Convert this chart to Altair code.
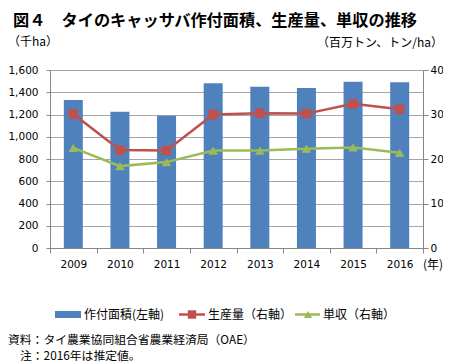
import altair as alt
import pandas as pd

years = ["2009", "2010", "2011", "2012", "2013", "2014", "2015", "2016"]
area = [1330, 1225, 1189, 1480, 1450, 1438, 1495, 1490]          # 千ha (left axis)
production = [30.1, 22.0, 21.9, 30.0, 30.3, 30.2, 32.4, 31.2]     # 百万トン (right axis)
yield_ = [22.5, 18.4, 19.3, 21.9, 21.9, 22.3, 22.6, 21.4]         # トン/ha (right axis)

left_ticks = [0, 200, 400, 600, 800, 1000, 1200, 1400, 1600]
right_ticks = [0, 5, 10, 15, 20, 25, 30, 35, 40]

title_text = "図４　タイのキャッサバ作付面積、生産量、単収の推移"
left_unit = "（千ha）"
right_unit = "（百万トン、トン/ha）"
x_unit = "(年)"
legend_labels = ["作付面積(左軸)", "生産量（右軸）", "単収（右軸）"]
source_text = "資料：タイ農業協同組合省農業経済局（OAE）"
note_text = "注：2016年は推定値。"

BLUE = "#4F81BD"
RED = "#C0504D"
GREEN = "#9BBB59"
GRID = "#A6A6A6"
AXIS = "#868686"
JP = "Noto Sans CJK JP"
NUM = "DejaVu Sans"

df = pd.DataFrame({"year": years, "area": area, "production": production, "yield": yield_})

W, H = 373, 178

xenc = alt.X("year:O", title=None,
             scale=alt.Scale(paddingInner=0.0, paddingOuter=0.0),
             axis=alt.Axis(labelAngle=0, tickBand="extent", domainColor=AXIS, tickColor=AXIS,
                           tickSize=5, labelPadding=6, labelFont=NUM, labelFontSize=10.5,
                           labelColor="#000000", grid=False))

bars = alt.Chart(df).mark_bar(size=19, color=BLUE).encode(
    x=xenc,
    y=alt.Y("area:Q", title=None, scale=alt.Scale(domain=[0, 1600], nice=False),
            axis=alt.Axis(values=left_ticks, format=",.0f", grid=True, gridColor=GRID,
                          domainColor=AXIS, tickColor=AXIS, tickSize=4, labelPadding=8,
                          labelFont=NUM, labelFontSize=10.5, labelColor="#000000")),
)

yright = alt.Y("production:Q", title=None, scale=alt.Scale(domain=[0, 40], nice=False),
               axis=alt.Axis(orient="right", values=right_ticks, format=".0f", grid=False,
                             domainColor=AXIS, tickColor=AXIS, tickSize=5, labelPadding=2,
                             labelFont=NUM, labelFontSize=10.5, labelColor="#000000"))

prod_line = alt.Chart(df).mark_line(color=RED, strokeWidth=2.5).encode(x=xenc, y=yright)
prod_pts = alt.Chart(df).mark_point(shape="square", filled=True, color=RED, size=90, opacity=1).encode(x=xenc, y=yright)
yld_line = alt.Chart(df).mark_line(color=GREEN, strokeWidth=2.5).encode(x=xenc, y=alt.Y("yield:Q"))
yld_pts = alt.Chart(df).mark_point(shape="triangle-up", filled=True, color=GREEN, size=90, opacity=1).encode(x=xenc, y=alt.Y("yield:Q"))

lines = alt.layer(prod_line, prod_pts, yld_line, yld_pts)

def txt(s, x, y, size=12, align="left", weight="normal", font=JP):
    return alt.Chart(pd.DataFrame({"t": [s]})).mark_text(
        align=align, baseline="middle", fontSize=size, fontWeight=weight, font=font, color="#000000"
    ).encode(text="t:N", x=alt.value(x), y=alt.value(y))

# plot origin on page is (50, 70)
texts = [
    txt(title_text, -37, -49, size=16.2, weight="bold"),
    txt(left_unit, -42, -28.5, size=12),
    txt(right_unit, 393, -27, size=12, align="right"),
    txt(x_unit, 393, 195, size=12, align="right"),
    txt(legend_labels[0], 34, 244.5, size=12),
    txt(legend_labels[1], 158, 244.5, size=12),
    txt(legend_labels[2], 273, 244.5, size=12),
    txt(source_text, -42, 270, size=11.8),
    txt(note_text, -30, 286, size=11.8),
]

leg = pd.DataFrame({"k": [0]})
legend_marks = [
    alt.Chart(leg).mark_rect(color=BLUE).encode(x=alt.value(5), x2=alt.value(31), y=alt.value(241), y2=alt.value(248)),
    alt.Chart(leg).mark_rule(color=RED, strokeWidth=2.5).encode(x=alt.value(129), x2=alt.value(155), y=alt.value(244.5)),
    alt.Chart(leg).mark_point(shape="square", filled=True, color=RED, size=70, opacity=1).encode(x=alt.value(142), y=alt.value(244.5)),
    alt.Chart(leg).mark_rule(color=GREEN, strokeWidth=2.5).encode(x=alt.value(245), x2=alt.value(270), y=alt.value(244.5)),
    alt.Chart(leg).mark_point(shape="triangle-up", filled=True, color=GREEN, size=70, opacity=1).encode(x=alt.value(258), y=alt.value(244.5)),
]

base = alt.layer(bars, *texts, *legend_marks)

chart = alt.layer(base, lines).resolve_scale(y="independent").properties(
    width=W, height=H,
    autosize=alt.AutoSizeParams(type="none"),
    padding={"left": 42, "top": 62, "right": 20, "bottom": 116},
).configure_view(stroke=None).configure(background="#ffffff")

chart.save("out.html", embed_options={"renderer": "svg", "actions": False})
